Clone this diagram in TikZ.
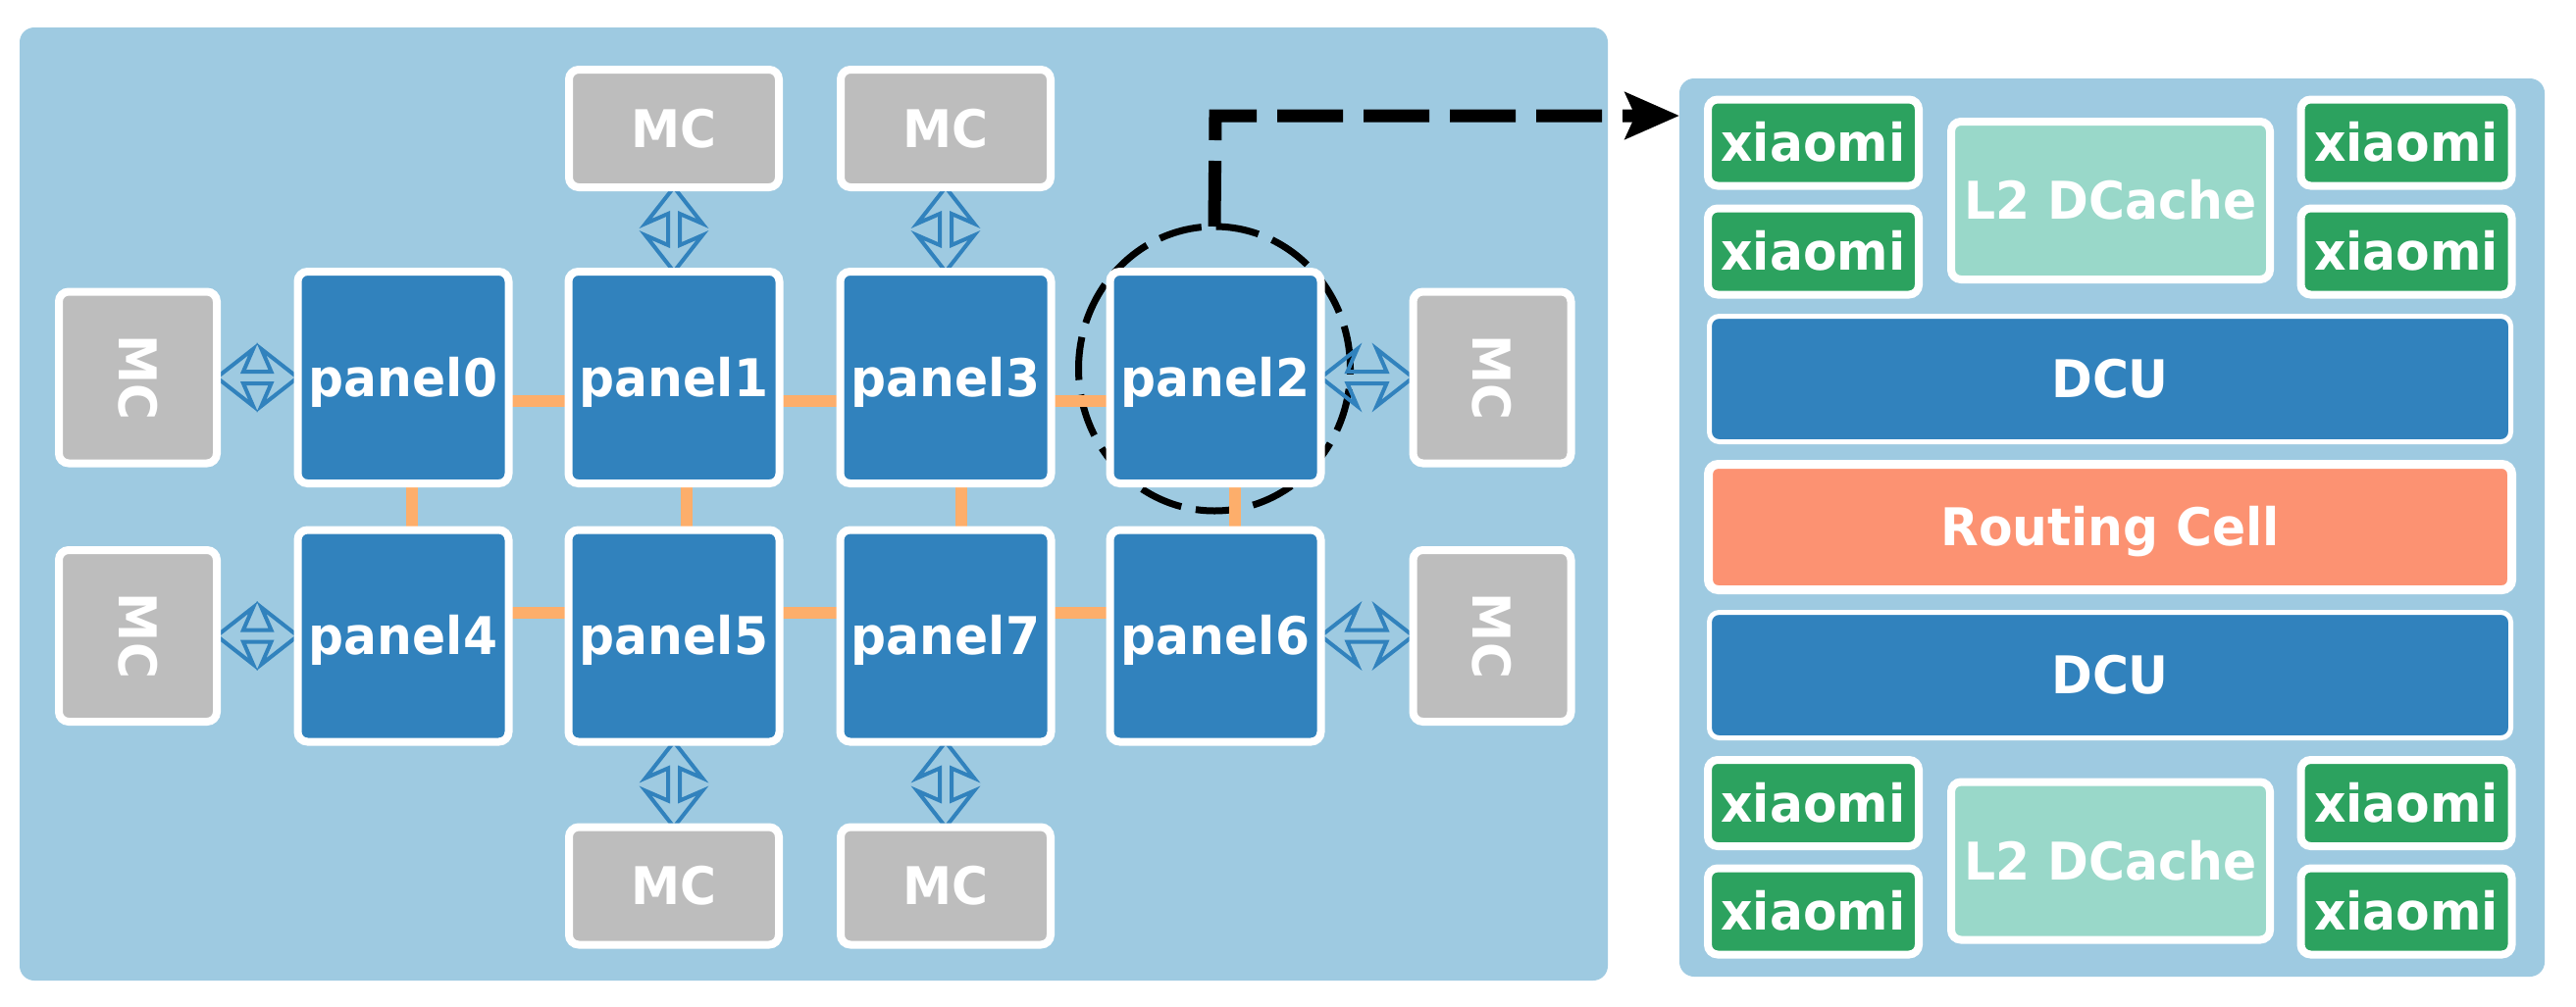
\documentclass[tikz,border=0pt]{standalone}
\usepackage{fontspec}
\setmainfont{DejaVu Sans}[FakeStretch=0.95]
\usetikzlibrary{shapes.geometric,arrows.meta,calc}
\definecolor{bgblue}{HTML}{9ECAE1}
\definecolor{pblue}{HTML}{3182BD}
\definecolor{mcgrey}{HTML}{BDBDBD}
\definecolor{xgreen}{HTML}{2CA25F}
\definecolor{mint}{HTML}{99D8C9}
\definecolor{salmon}{HTML}{FC9272}
\definecolor{linkorange}{HTML}{FDAE6B}
\pgfdeclarelayer{back}
\pgfdeclarelayer{ell}
\pgfdeclarelayer{links}
\pgfsetlayers{back,ell,links,main}
\newcommand\dblH[2]{%
  \draw[dblarr] (#1) -- ($(#1)+(37,-29)$) -- ($(#1)+(27,-6)$) -- ($(#2)+(-27,-6)$) -- ($(#2)+(-37,-29)$) -- (#2)
   -- ($(#2)+(-37,29)$) -- ($(#2)+(-27,6)$) -- ($(#1)+(27,6)$) -- ($(#1)+(37,29)$) -- cycle;}
\newcommand\dblV[2]{%
  \draw[dblarr] (#1) -- ($(#1)+(29,37)$) -- ($(#1)+(6,27)$) -- ($(#2)+(6,-27)$) -- ($(#2)+(29,-37)$) -- (#2)
   -- ($(#2)+(-29,-37)$) -- ($(#2)+(-6,-27)$) -- ($(#1)+(-6,27)$) -- ($(#1)+(-29,37)$) -- cycle;}
\begin{document}
\begin{tikzpicture}[x=1pt,y=-1pt,
  box/.style={rectangle, rounded corners=10pt, draw=white, line width=8pt, inner sep=0pt, outer sep=0pt,
    text=white, font=\fontsize{53}{62}\selectfont\bfseries},
  txt/.style={text height=38pt, text depth=0pt},
  panel/.style={box, txt, fill=pblue, minimum width=215pt, minimum height=216pt},
  mch/.style={box, txt, fill=mcgrey, minimum width=214pt, minimum height=120pt},
  mcv/.style={box, fill=mcgrey, minimum width=161pt, minimum height=175pt},
  xiao/.style={box, txt, fill=xgreen, minimum width=215pt, minimum height=88pt},
  ltwo/.style={box, txt, fill=mint, minimum width=325pt, minimum height=161pt},
  dcu/.style={box, txt, fill=pblue, line width=5pt, minimum width=817pt, minimum height=128pt},
  route/.style={box, txt, fill=salmon, line width=9pt, minimum width=819pt, minimum height=128pt},
  area/.style={rectangle, fill=bgblue, rounded corners=15pt, inner sep=0pt, outer sep=0pt},
  link/.style={draw=linkorange, line width=12pt},
  dblarr/.style={draw=pblue, line width=4pt, line join=miter},
  zoomring/.style={ellipse, draw=black, line width=7pt, dash pattern=on 44pt off 15pt, inner sep=0pt, outer sep=0pt,
    minimum width=277pt, minimum height=290pt},
  zoomline/.style={draw=black, line width=13pt, dash pattern=on 67pt off 21pt,
    -{Stealth[length=55pt, width=47pt, inset=10pt]}}
]
\useasboundingbox (0,0) rectangle (2626,1026);

% areas
\begin{pgfonlayer}{back}
\node[area, minimum width=1619pt, minimum height=972pt] (chip) at (829.5,514) {};
\node[area, minimum width=882pt, minimum height=916pt] (detail) at (2153,538) {};
\end{pgfonlayer}

% panels
\node[panel] (p0) at (411,385) {panel0};
\node[panel] (p1) at (687,385) {panel1};
\node[panel] (p3) at (964,385) {panel3};
\node[panel] (p2) at (1239,385) {panel2};
\node[panel] (p4) at (411,648.5) {panel4};
\node[panel] (p5) at (687,648.5) {panel5};
\node[panel] (p7) at (964,648.5) {panel7};
\node[panel] (p6) at (1239,648.5) {panel6};

% memory controllers
\node[mch] (mcT1) at (687,131) {MC};
\node[mch] (mcT3) at (964,131) {MC};
\node[mch] (mcB5) at (687,903.5) {MC};
\node[mch] (mcB7) at (964,903.5) {MC};
\node[mcv] (mcL0) at (140.5,385) {\rotatebox{-90}{MC}};
\node[mcv] (mcL4) at (140.5,648.5) {\rotatebox{-90}{MC}};
\node[mcv] (mcR2) at (1521,385) {\rotatebox{-90}{MC}};
\node[mcv] (mcR6) at (1521,648.5) {\rotatebox{-90}{MC}};

% detail view
\node[xiao] (x1) at (1848.5,145.5) {xiaomi};
\node[xiao] (x2) at (1848.5,256.5) {xiaomi};
\node[xiao] (x3) at (2453,145.5) {xiaomi};
\node[xiao] (x4) at (2453,256.5) {xiaomi};
\node[ltwo] (l2a) at (2151.5,204.5) {L2 DCache};
\node[dcu] (dcu1) at (2151,386.5) {DCU};
\node[route] (rc) at (2151,537.5) {Routing Cell};
\node[dcu] (dcu2) at (2151,688.5) {DCU};
\node[xiao] (x5) at (1848.5,819) {xiaomi};
\node[xiao] (x6) at (1848.5,929.5) {xiaomi};
\node[xiao] (x7) at (2453,819) {xiaomi};
\node[xiao] (x8) at (2453,929.5) {xiaomi};
\node[ltwo] (l2b) at (2151.5,878) {L2 DCache};

% links and memory arrows
\begin{pgfonlayer}{links}
\draw[link] (p0.east |- 0,409) -- (p1.west |- 0,409);
\draw[link] (p1.east |- 0,409) -- (p3.west |- 0,409);
\draw[link] (p3.east |- 0,409) -- (p2.west |- 0,409);
\draw[link] (p4.east |- 0,625) -- (p5.west |- 0,625);
\draw[link] (p5.east |- 0,625) -- (p7.west |- 0,625);
\draw[link] (p7.east |- 0,625) -- (p6.west |- 0,625);
\draw[link] (p0.south -| 420,0) -- (p4.north -| 420,0);
\draw[link] (p1.south -| 700,0) -- (p5.north -| 700,0);
\draw[link] (p3.south -| 980,0) -- (p7.north -| 980,0);
\draw[link] (p2.south -| 1259,0) -- (p6.north -| 1259,0);
\dblH{mcL0.east}{p0.west}
\dblH{mcL4.east}{p4.west}
\dblH{p2.east}{mcR2.west}
\dblH{p6.east}{mcR6.west}
\dblV{mcT1.south}{p1.north}
\dblV{mcT3.south}{p3.north}
\dblV{p5.south}{mcB5.north}
\dblV{p7.south}{mcB7.north}
\end{pgfonlayer}

% zoom ring
\begin{pgfonlayer}{ell}
\node[zoomring] (ring) at (1238,376) {};
\end{pgfonlayer}
\coordinate (turn) at (1239,118);
\draw[zoomline] (ring.north) -- (turn) -- (turn -| detail.west);
\end{tikzpicture}
\end{document}
